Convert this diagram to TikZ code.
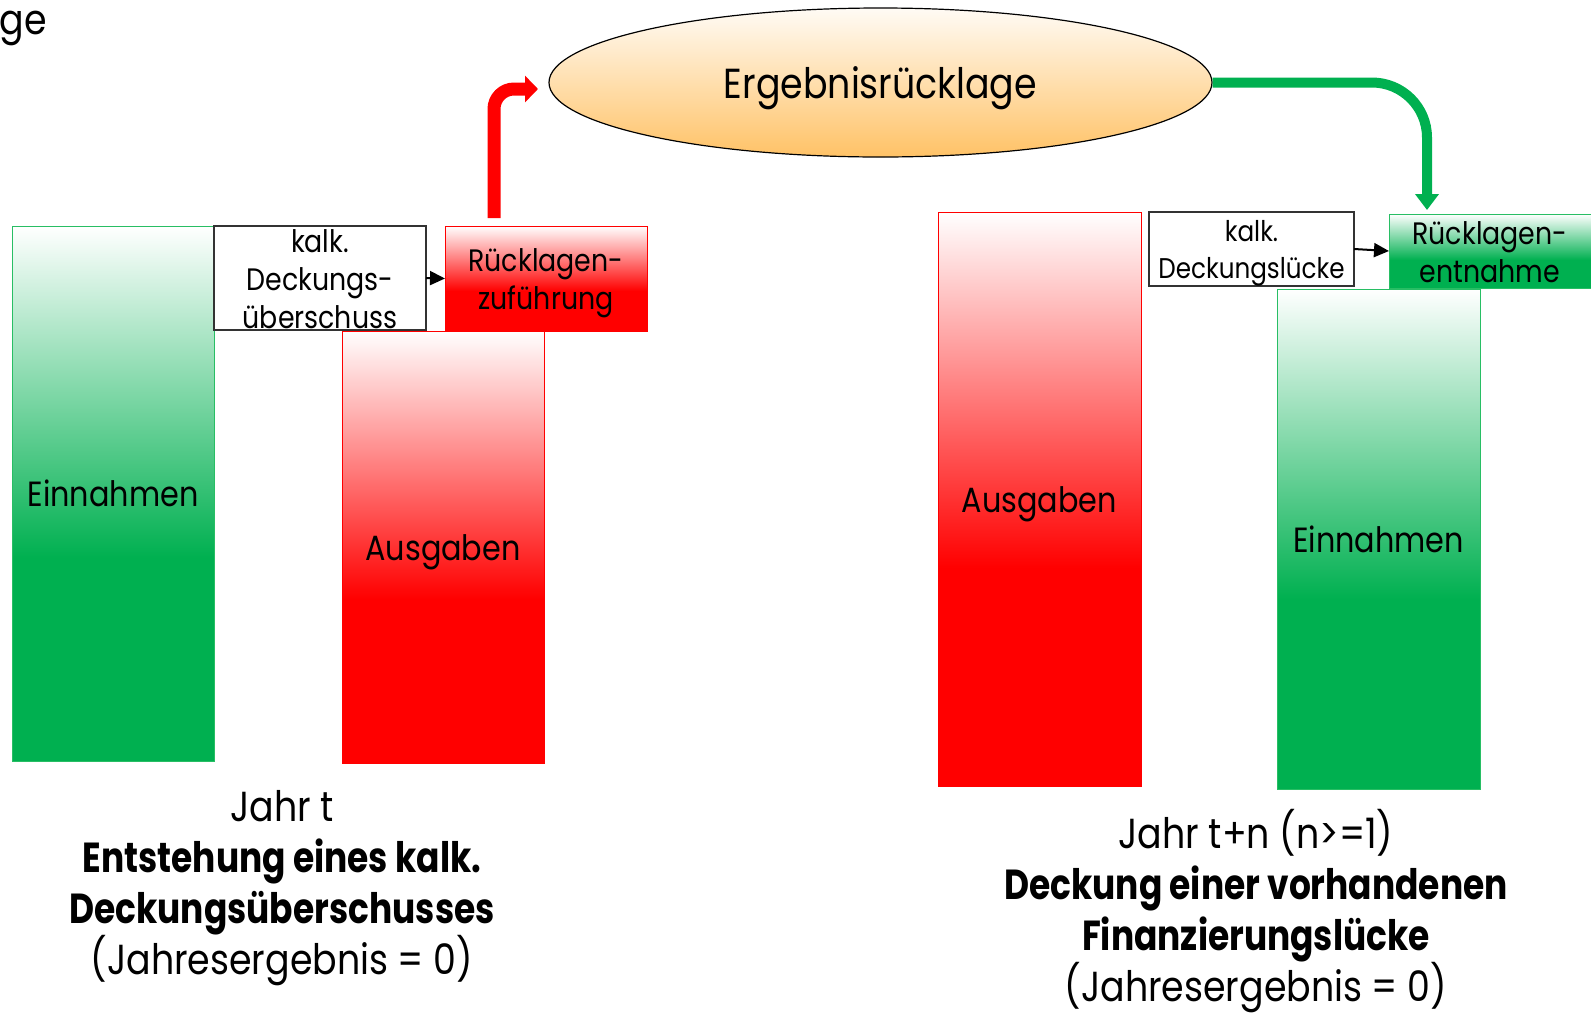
\documentclass[tikz,border=0pt]{standalone}
\usepackage{fontspec}
\setmainfont{Poppins}[FakeStretch=0.865, BoldFeatures={FakeStretch=0.82}]
\usetikzlibrary{arrows.meta,shapes.geometric}
\definecolor{bargreen}{RGB}{0,176,80}
\definecolor{barred}{RGB}{255,0,0}
\definecolor{elltop}{RGB}{255,251,245}
\definecolor{ellbot}{RGB}{255,194,102}
\definecolor{greenline}{RGB}{40,190,100}
\pgfdeclareverticalshading{redfade}{100bp}{color(0bp)=(barred); color(44bp)=(barred); color(75bp)=(white); color(100bp)=(white)}
\pgfdeclareverticalshading{greenfade}{100bp}{color(0bp)=(bargreen); color(44bp)=(bargreen); color(75bp)=(white); color(100bp)=(white)}
\begin{document}
\begin{tikzpicture}[x=1pt,y=-1pt,
  bigfont/.style={font=\fontsize{42}{51}\selectfont},
  barfont/.style={font=\fontsize{35}{42}\selectfont, text height=26pt, text depth=0pt},
  boxfont/.style={font=\fontsize{31}{38}\selectfont},
  smallboxfont/.style={font=\fontsize{28.5}{37}\selectfont},
  greenbar/.style={draw=greenline, line width=1pt, shade, shading=greenfade, inner sep=0pt, outer sep=0pt},
  redbar/.style={draw=barred, line width=1pt, shade, shading=redfade, inner sep=0pt, outer sep=0pt},
  kalkbox/.style={draw=black!80, line width=1.5pt, fill=white, inner sep=0pt, outer sep=0pt},
  boxtext/.style={align=center, inner sep=0pt},
  smallarrow/.style={draw=black, line width=2pt, -{Triangle[length=15pt,width=14pt]}},
  redarrow/.style={draw=barred, line width=13pt, rounded corners=20pt, -{Triangle[length=13pt,width=26pt]}},
  greenarrow/.style={draw=bargreen, line width=10pt, rounded corners=55pt, -{Triangle[length=16pt,width=23pt]}}
]
\useasboundingbox (0,0) rectangle (1591,1013);

% cut-off title remnant
\node[bigfont, anchor=base east, inner sep=0pt] (title) at (47,34) {ge};

% ellipse
\node[ellipse, draw=black, line width=1.2pt, minimum width=663pt, minimum height=149pt,
      top color=elltop, bottom color=ellbot, inner sep=0pt, bigfont, text height=31pt, text depth=0pt] (ell) at (880.5,82.5) {Ergebnisrücklage};

% left year
\node[greenbar, barfont, minimum width=202pt, minimum height=535pt] (einL) at (113,493.5) {Einnahmen};
\node[kalkbox, minimum width=212pt, minimum height=104pt] (kalkL) at (320,278) {};
\node[boxtext, boxfont] (kalkLt) at (320,279) {kalk.\\Deckungs-\\überschuss};
\node[redbar, minimum width=202pt, minimum height=105pt] (zuf) at (546,278.5) {};
\node[boxtext, boxfont] (zuft) at (546,283) {Rücklagen-\\zuführung};
\node[redbar, barfont, minimum width=202pt, minimum height=432pt] (ausL) at (443,547) {Ausgaben};

% right year
\node[redbar, barfont, minimum width=203pt, minimum height=574pt] (ausR) at (1039.5,499) {Ausgaben};
\node[kalkbox, minimum width=205pt, minimum height=74pt] (kalkR) at (1251.5,249) {};
\node[boxtext, smallboxfont] (kalkRt) at (1251.5,253.5) {kalk.\\Deckungslücke};
\node[greenbar, minimum width=206pt, minimum height=74pt] (entn) at (1492,251) {};
\node[boxtext, boxfont] (entnt) at (1490,252) {Rücklagen-\\entnahme};
\node[greenbar, barfont, minimum width=203pt, minimum height=500pt] (einR) at (1378.5,539) {Einnahmen};

% connectors
\draw[smallarrow] (kalkL.east) -- (zuf.west);
\draw[smallarrow] (kalkR.east) -- (entn.west);
\coordinate (redstart) at (494,218);
\coordinate (redend) at (538,89);
\draw[redarrow] (redstart) |- (redend);
\coordinate (greenend) at (1427,210);
\draw[greenarrow] (ell.east) -| (greenend);

% captions
\node[bigfont, align=center, inner sep=0pt] (capL) at (282,888)
  {Jahr t\\\textbf{Entstehung eines kalk.}\\\textbf{Deckungsüberschusses}\\(Jahresergebnis = 0)};
\node[bigfont, align=center, inner sep=0pt] (capR) at (1256,911)
  {Jahr t+n (n>=1)\\\textbf{Deckung einer vorhandenen}\\\textbf{Finanzierungslücke}\\(Jahresergebnis = 0)};
\end{tikzpicture}
\end{document}
